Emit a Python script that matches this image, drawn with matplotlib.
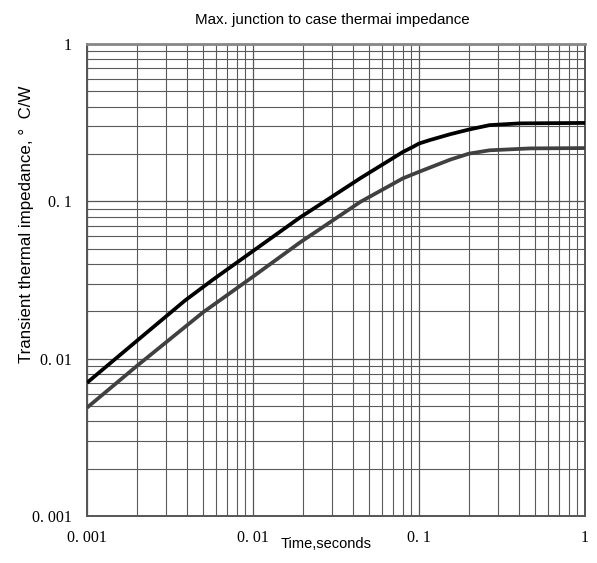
import matplotlib
matplotlib.use("Agg")
import matplotlib.pyplot as plt
from matplotlib.ticker import FixedLocator, LogLocator, NullFormatter

# Data (log-log)
time_upper = [0.001, 0.002, 0.00389, 0.00574, 0.0192, 0.0279, 0.0442, 0.08, 0.092, 0.1, 0.116, 0.154, 0.2, 0.266, 0.405, 1.0]
zth_upper = [0.00703, 0.0130, 0.0234, 0.0318, 0.079, 0.102, 0.140, 0.206, 0.222, 0.233, 0.245, 0.267, 0.286, 0.305, 0.313, 0.315]

time_lower = [0.001, 0.002, 0.005, 0.0096, 0.0192, 0.0442, 0.08, 0.1, 0.154, 0.2, 0.266, 0.467, 1.0]
zth_lower = [0.00488, 0.0090, 0.0197, 0.0322, 0.0548, 0.099, 0.140, 0.154, 0.184, 0.201, 0.211, 0.217, 0.218]

xticks = [0.001, 0.01, 0.1, 1]
xticklabels = ["0. 001", "0. 01", "0. 1", "1"]
yticks = [0.001, 0.01, 0.1, 1]
yticklabels = ["0. 001", "0. 01", "0. 1", "1"]

title = "Max. junction to case thermai impedance"
xlabel = "Time,seconds"
ylabel = "Transient thermal impedance, \u00b0  C/W"

fig = plt.figure(figsize=(5.97, 5.63), dpi=100)
ax = fig.add_axes([87/597, (563-516)/563, (585-87)/597, (516-44)/563])

ax.set_xscale("log")
ax.set_yscale("log")
ax.set_xlim(0.001, 1)
ax.set_ylim(0.001, 1)

ax.plot(time_upper, zth_upper, color="#000000", lw=2.7, solid_joinstyle="round", solid_capstyle="butt", zorder=3)
ax.plot(time_lower, zth_lower, color="#404040", lw=2.7, solid_joinstyle="round", solid_capstyle="butt", zorder=3)

ax.xaxis.set_major_locator(FixedLocator(xticks))
ax.yaxis.set_major_locator(FixedLocator(yticks))
ax.xaxis.set_minor_locator(LogLocator(base=10, subs=range(2, 10), numticks=20))
ax.yaxis.set_minor_locator(LogLocator(base=10, subs=range(2, 10), numticks=20))
ax.xaxis.set_minor_formatter(NullFormatter())
ax.yaxis.set_minor_formatter(NullFormatter())
ax.set_xticklabels(xticklabels, fontfamily="Liberation Serif", fontsize=11.5)
ax.set_yticklabels(yticklabels, fontfamily="Liberation Serif", fontsize=11.5)
ax.tick_params(which="both", length=0)
ax.tick_params(axis="x", pad=10)
ax.tick_params(axis="y", pad=11)

ax.grid(which="major", color="#555555", lw=0.9)
ax.grid(which="minor", color="#5a5a5a", lw=0.8)
ax.set_axisbelow(True)

for side in ["left", "bottom", "right", "top"]:
    ax.spines[side].set_color("#555555")
    ax.spines[side].set_linewidth(1.4)
ax.spines["top"].set_color("#888888")
ax.spines["top"].set_linewidth(2.0)

fig.text(332/597, 1 - 20/563, title, ha="center", va="center", fontfamily="Liberation Sans", fontsize=10.9)
fig.text(326/597, 1 - 544/563, xlabel, ha="center", va="center", fontfamily="Liberation Sans", fontsize=10.5)
fig.text(27/597, 1 - 363/563, ylabel, ha="center", va="bottom", rotation=90, fontfamily=["Liberation Sans", "DejaVu Sans"], fontsize=12.2)

fig.savefig("out.png", dpi=100)
